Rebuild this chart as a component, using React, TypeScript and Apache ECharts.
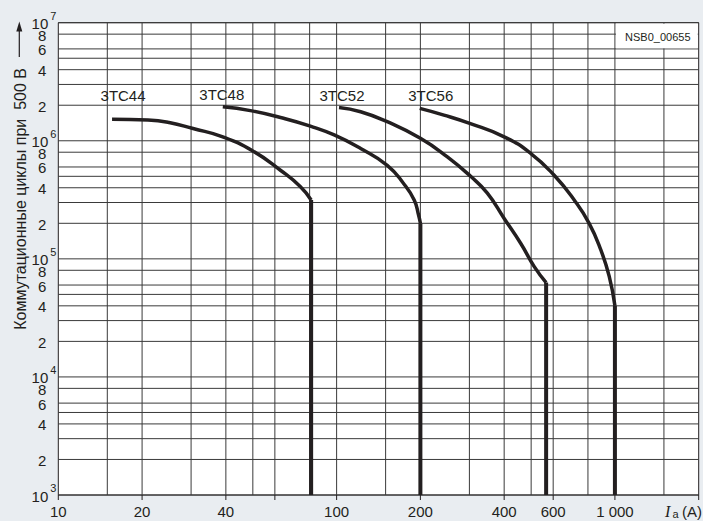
import React, { useEffect, useRef } from "react";
import * as echarts from "echarts";

// ---------- data ----------
const seriesNames = ["3TC44", "3TC48", "3TC52", "3TC56"];

const current44 = [15.6, 21, 25, 30.5, 39, 50, 63, 74, 81];
const cycles44 = [1.52e6, 1.5e6, 1.43e6, 1.27e6, 1.08e6, 8.2e5, 5.6e5, 4.1e5, 3.15e5];

const current48 = [39, 49, 64.5, 80.5, 98, 122, 152, 174, 190, 197, 200];
const cycles48 = [1.94e6, 1.8e6, 1.55e6, 1.33e6, 1.12e6, 8.6e5, 6.2e5, 4.35e5, 3.15e5, 2.35e5, 2.0e5];

const current52 = [102, 122, 152, 200, 250, 303, 348, 400, 459, 513, 566];
const cycles52 = [1.91e6, 1.76e6, 1.45e6, 1.05e6, 7.3e5, 5.0e5, 3.6e5, 2.2e5, 1.35e5, 8.6e4, 6.3e4];

const current56 = [199, 243, 299, 400, 499, 605, 714, 808, 890, 954, 1000];
const cycles56 = [1.88e6, 1.65e6, 1.41e6, 1.08e6, 7.8e5, 5.1e5, 3.15e5, 2.0e5, 1.19e5, 7.1e4, 4.0e4];

const xGridValues = [15, 20, 30, 40, 50, 60, 80, 100, 150, 200, 300, 400, 500, 600, 800, 1000, 1500];
const xTickValues = [10, 20, 40, 60, 100, 200, 400, 600, 1000, 2000];
const xLabelValues = [10, 20, 40, 100, 200, 400, 600, 1000];
const xLabelTexts = ["10", "20", "40", "100", "200", "400", "600", "1 000"];

const yDecadeExponents = [3, 4, 5, 6];
const yGridMantissas = [1, 2, 3, 4, 5, 6, 8];
const yLabelMantissas = [1, 2, 4, 6, 8];
const yTopExponent = 7;

const yAxisTitle = "Коммутационные циклы при  500 В";
const diagramCode = "NSB0_00655";

// ---------- style ----------
const BG = "#e9edf1";
const INK = "#231f20";
const GRID = "#3a3a3a";
const FONT = "Liberation Sans, Arial, sans-serif";
const X_MIN = 10;
const X_MAX = 2000;
const Y_MIN = 1e3;
const Y_MAX = 1e7;
const curveLabelOffsets = [
  [11, -24],
  [-1, -12],
  [3, -12],
  [11, -13],
];
const codeBox = [1000, 1e7, 2000, 6e6];

const curves = [
  { name: seriesNames[0], I: current44, N: cycles44 },
  { name: seriesNames[1], I: current48, N: cycles48 },
  { name: seriesNames[2], I: current52, N: cycles52 },
  { name: seriesNames[3], I: current56, N: cycles56 },
];

const yGridValues = [
  ...yDecadeExponents.flatMap((e) => yGridMantissas.map((m) => m * Math.pow(10, e))),
  Math.pow(10, yTopExponent),
];
const yLabelItems: { v: number; m: number; e: number }[] = [
  ...yDecadeExponents.flatMap((e) => yLabelMantissas.map((m) => ({ v: m * Math.pow(10, e), m, e }))),
  { v: Math.pow(10, yTopExponent), m: 1, e: yTopExponent },
];

function txt(x: number, y: number, text: string, size: number, align: string, valign: string, extra: any = {}) {
  return {
    type: "text",
    x,
    y,
    style: {
      text,
      fill: INK,
      font: `${extra.italic ? "italic " : ""}${size}px ${extra.family || FONT}`,
      align,
      verticalAlign: valign,
      textAlign: align,
      textVerticalAlign: valign,
    },
  };
}

export default function App() {
  const ref = useRef<HTMLDivElement>(null);
  useEffect(() => {
    const el = ref.current!;
    const chart = echarts.init(el, undefined, { renderer: "svg" });

    const series: any[] = [];

    // vertical grid lines
    series.push({
      type: "custom",
      z: 1,
      silent: true,
      data: xGridValues.map((v) => [v, Y_MIN]),
      renderItem: (_p: any, api: any) => {
        const v = api.value(0);
        const a = api.coord([v, Y_MIN]);
        const b = api.coord([v, Y_MAX]);
        return {
          type: "line",
          shape: { x1: a[0], y1: a[1], x2: b[0], y2: b[1] },
          style: { stroke: GRID, lineWidth: 1 },
        };
      },
    });
    // horizontal grid lines
    series.push({
      type: "custom",
      z: 1,
      silent: true,
      data: yGridValues.map((v) => [X_MIN, v]),
      renderItem: (_p: any, api: any) => {
        const v = api.value(1);
        const a = api.coord([X_MIN, v]);
        const b = api.coord([X_MAX, v]);
        return {
          type: "line",
          shape: { x1: a[0], y1: a[1], x2: b[0], y2: b[1] },
          style: { stroke: GRID, lineWidth: 1 },
        };
      },
    });
    // code box
    series.push({
      type: "custom",
      z: 2,
      silent: true,
      data: [codeBox],
      renderItem: (_p: any, api: any) => {
        const a = api.coord([api.value(0), api.value(1)]);
        const b = api.coord([api.value(2), api.value(3)]);
        return {
          type: "group",
          children: [
            {
              type: "rect",
              shape: { x: a[0] + 1, y: a[1] + 1, width: b[0] - a[0] - 2, height: b[1] - a[1] - 1.6 },
              style: { fill: "#ffffff" },
            },
            txt((a[0] + b[0]) / 2 + 1, (a[1] + b[1]) / 2 + 1, diagramCode, 11, "center", "middle"),
          ],
        };
      },
    });
    // x ticks and labels
    series.push({
      type: "custom",
      z: 4,
      silent: true,
      data: xTickValues.map((v) => [v, Y_MIN]),
      renderItem: (_p: any, api: any) => {
        const v = api.value(0);
        const p = api.coord([v, Y_MIN]);
        const children: any[] = [
          {
            type: "line",
            shape: { x1: p[0], y1: p[1], x2: p[0], y2: p[1] + 5 },
            style: { stroke: INK, lineWidth: 1 },
          },
        ];
        const li = xLabelValues.indexOf(v);
        if (li >= 0) children.push(txt(p[0], p[1] + 16, xLabelTexts[li], 15, "center", "middle"));
        return { type: "group", children };
      },
    });
    // y labels
    series.push({
      type: "custom",
      z: 4,
      silent: true,
      data: yLabelItems.map((it) => [X_MIN, it.v, it.m, it.e]),
      renderItem: (_p: any, api: any) => {
        const v = api.value(1);
        const m = api.value(2);
        const e = api.value(3);
        const p = api.coord([X_MIN, v]);
        if (m === 1) {
          return {
            type: "group",
            children: [
              txt(p[0] - 10, p[1] + 1, "10", 15, "right", "middle"),
              txt(p[0] - 8, p[1] - 7, String(e), 11, "left", "middle"),
            ],
          };
        }
        return txt(p[0] - 12, p[1] + 1, String(m), 15, "right", "middle");
      },
    });
    // curves
    curves.forEach((c) => {
      series.push({
        type: "line",
        name: c.name,
        z: 3,
        data: c.I.map((x, i) => [x, c.N[i]]),
        symbol: "none",
        smooth: 0.5,
        lineStyle: { color: INK, width: 3.5 },
        silent: true,
      });
      const last = c.I.length - 1;
      series.push({
        type: "line",
        name: c.name + " drop",
        z: 3,
        data: [
          [c.I[last], c.N[last]],
          [c.I[last], Y_MIN],
        ],
        symbol: "none",
        lineStyle: { color: INK, width: 4 },
        silent: true,
      });
    });
    // curve labels
    series.push({
      type: "custom",
      z: 4,
      silent: true,
      data: curves.map((c, i) => [c.I[0], c.N[0], i]),
      renderItem: (_p: any, api: any) => {
        const i = api.value(2);
        const p = api.coord([api.value(0), api.value(1)]);
        const o = curveLabelOffsets[i];
        return txt(p[0] + o[0], p[1] + o[1], seriesNames[i], 15, "center", "middle");
      },
    });

    const option: any = {
      animation: false,
      backgroundColor: BG,
      grid: {
        left: 58.3,
        right: 4.3,
        top: 22.7,
        bottom: 26,
        show: true,
        backgroundColor: "#ffffff",
        borderColor: INK,
        borderWidth: 1,
        containLabel: false,
      },
      xAxis: {
        type: "log",
        logBase: 10,
        min: X_MIN,
        max: X_MAX,
        axisLine: { show: false },
        axisTick: { show: false },
        axisLabel: { show: false },
        splitLine: { show: false },
      },
      yAxis: {
        type: "log",
        logBase: 10,
        min: Y_MIN,
        max: Y_MAX,
        axisLine: { show: false },
        axisTick: { show: false },
        axisLabel: { show: false },
        splitLine: { show: false },
      },
      graphic: [
        {
          type: "text",
          x: 20,
          y: 68,
          rotation: Math.PI / 2,
          style: {
            text: yAxisTitle,
            fill: INK,
            font: `16px ${FONT}`,
            align: "right",
            verticalAlign: "middle",
            textAlign: "right",
            textVerticalAlign: "middle",
          },
        },
        {
          type: "line",
          shape: { x1: 19.3, y1: 57, x2: 19.3, y2: 28 },
          style: { stroke: INK, lineWidth: 1.2 },
        },
        {
          type: "polygon",
          shape: {
            points: [
              [19.3, 21.5],
              [16.3, 31.5],
              [22.3, 31.5],
            ],
          },
          style: { fill: INK },
        },
        {
          type: "text",
          x: 665,
          y: 511,
          style: {
            text: "I",
            fill: INK,
            font: `italic 16px Liberation Serif, serif`,
            align: "left",
            verticalAlign: "middle",
            textAlign: "left",
            textVerticalAlign: "middle",
          },
        },
        {
          type: "text",
          x: 672.5,
          y: 514,
          style: {
            text: "a",
            fill: INK,
            font: `11px ${FONT}`,
            align: "left",
            verticalAlign: "middle",
            textAlign: "left",
            textVerticalAlign: "middle",
          },
        },
        {
          type: "text",
          x: 682,
          y: 511,
          style: {
            text: "(A)",
            fill: INK,
            font: `15px ${FONT}`,
            align: "left",
            verticalAlign: "middle",
            textAlign: "left",
            textVerticalAlign: "middle",
          },
        },
      ],
      series,
    };

    chart.setOption(option);
    return () => chart.dispose();
  }, []);

  return (
    <div
      ref={ref}
      style={{ position: "fixed", left: 0, top: 0, width: 703, height: 521, background: BG }}
    />
  );
}
